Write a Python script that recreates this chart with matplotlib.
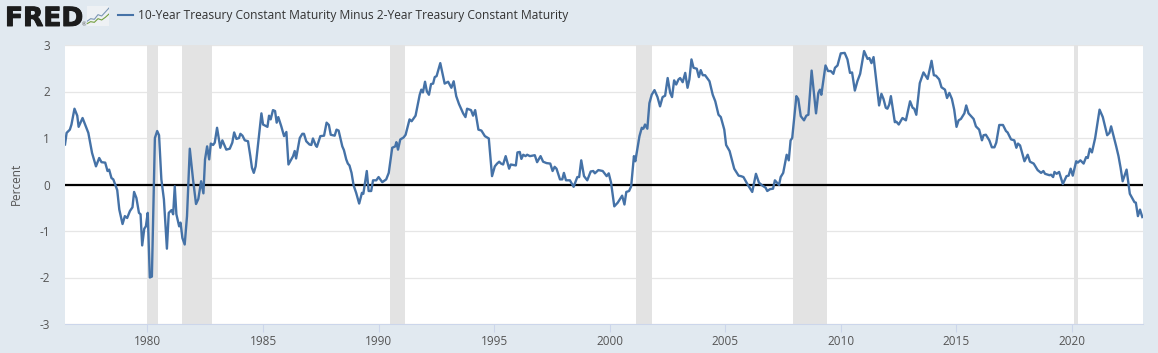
import matplotlib
matplotlib.use("Agg")
import matplotlib.pyplot as plt
import matplotlib.patheffects as pe
from matplotlib.ticker import FixedLocator

plt.rcParams['font.family'] = ['Open Sans', 'DejaVu Sans']

years = [
 1976.43,1976.5,1976.64,1976.71,1976.84,1976.96,1977.02,1977.19,1977.44,1977.6,1977.77,1977.91,1978.01,1978.17,1978.27,1978.34,1978.44,1978.52,1978.69,1978.78,1978.92,
 1979.02,1979.12,1979.24,1979.35,1979.42,1979.52,1979.63,1979.7,1979.77,1979.86,1979.93,1980.01,1980.1,1980.19,1980.32,1980.42,1980.5,1980.6,1980.71,1980.84,1980.92,
 1981.04,1981.11,1981.18,1981.25,1981.37,1981.43,1981.51,1981.61,1981.71,1981.83,1981.97,1982.1,1982.2,1982.32,1982.42,1982.49,1982.58,1982.67,1982.74,1982.84,1982.91,
 1983.01,1983.15,1983.24,1983.41,1983.56,1983.67,1983.75,1983.85,1983.96,1984.02,1984.11,1984.21,1984.35,1984.45,1984.52,1984.6,1984.68,1984.93,1985.0,1985.19,1985.26,
 1985.33,1985.43,1985.52,1985.59,1985.66,1985.79,1985.91,1986.01,1986.1,1986.3,1986.37,1986.43,1986.59,1986.7,1986.77,1986.87,1987.01,1987.09,1987.16,1987.28,1987.33,
 1987.48,1987.64,1987.75,1987.85,1987.93,1988.1,1988.18,1988.27,1988.43,1988.5,1988.6,1988.67,1988.74,1988.83,1988.92,1989.03,1989.16,1989.28,1989.34,1989.49,1989.57,
 1989.68,1989.76,1989.9,1990.0,1990.16,1990.33,1990.44,1990.59,
 1990.72,1990.77,1990.84,1990.94,1991.08,1991.17,1991.34,1991.43,1991.6,1991.78,1991.85,1991.92,1992.01,1992.09,1992.18,1992.27,1992.36,1992.43,1992.51,1992.67,1992.76,
 1992.86,1993.01,1993.15,1993.25,1993.36,1993.48,1993.66,1993.76,1993.83,1994.0,1994.09,1994.18,1994.32,1994.45,1994.6,1994.77,1994.91,1995.03,1995.13,1995.22,1995.3,
 1995.39,1995.5,1995.65,1995.72,1995.94,1996.01,1996.11,1996.18,1996.26,1996.36,1996.43,1996.55,1996.76,1996.86,1997.01,1997.12,1997.27,1997.43,1997.53,1997.62,1997.7,
 1997.85,1997.95,1998.02,1998.11,1998.28,1998.44,1998.6,1998.68,1998.77,1998.89,1999.03,1999.18,1999.29,1999.36,1999.51,1999.7,1999.87,1999.96,2000.06,2000.2,2000.35,
 2000.54,2000.64,2000.72,2000.84,2000.93,2001.05,2001.11,2001.29,2001.39,2001.46,2001.53,2001.63,2001.72,2001.82,2001.94,2002.07,2002.18,2002.29,2002.4,2002.51,2002.62,
 2002.7,2002.79,2002.88,2002.98,2003.05,2003.16,2003.27,2003.37,2003.45,2003.54,2003.63,2003.77,2003.86,2003.94,2004.03,2004.13,2004.32,2004.46,2004.57,2004.71,2004.81,
 2004.96,2005.04,2005.19,2005.39,2005.58,2005.68,2005.79,2005.97,2006.17,2006.33,2006.46,
 2006.6,2006.75,2006.82,2006.94,2007.07,2007.15,2007.33,2007.4,2007.51,2007.66,2007.75,2007.83,2007.9,2008.08,2008.16,2008.27,2008.41,2008.51,2008.6,2008.74,2008.93,
 2009.03,2009.1,2009.16,2009.34,2009.45,2009.57,2009.68,2009.75,2009.86,2010.0,2010.17,2010.29,2010.4,2010.49,2010.61,2010.72,2010.84,2011.01,2011.16,2011.24,2011.33,
 2011.42,2011.66,2011.76,2011.85,2011.95,2012.02,2012.1,2012.17,2012.34,2012.41,2012.51,2012.67,2012.82,2013.0,2013.11,2013.18,2013.27,2013.42,2013.58,2013.76,2013.93,
 2014.03,2014.12,2014.26,2014.36,2014.51,2014.6,2014.7,2014.81,2014.91,2015.01,2015.1,2015.2,2015.35,2015.43,2015.53,2015.75,2015.85,2015.99,2016.11,2016.18,2016.28,
 2016.43,2016.54,2016.65,2016.73,2016.86,2017.02,2017.15,2017.22,2017.37,2017.51,2017.6,2017.67,2017.76,2017.95,2018.09,2018.19,2018.35,2018.52,2018.67,2018.77,2018.84,
 2019.03,2019.1,2019.19,2019.25,2019.34,2019.45,2019.61,2019.77,2019.86,2019.95,2020.04,2020.19,2020.26,2020.37,2020.51,2020.62,2020.69,2020.78,2020.87,2021.01,2021.2,
 2021.34,2021.53,2021.63,2021.7,2021.92,2022.02,2022.11,2022.2,2022.37,2022.51,2022.71,2022.77,2022.86,2022.95,2023.05,
]
spread = [
 .86,1.11,1.18,1.29,1.63,1.48,1.24,1.43,1.11,.68,.39,.57,.48,.47,.29,.32,.14,.11,-.12,-.54,-.85,
 -.68,-.72,-.57,-.49,-.16,-.29,-.61,-.64,-1.31,-.95,-.9,-.61,-2.0,-1.98,1.0,1.15,1.06,.11,-.32,-1.38,-.61,
 -.55,-.64,-.04,-.64,-.9,-.82,-1.15,-1.29,-.68,.77,.11,-.42,-.31,.07,-.19,.54,.82,.54,.88,.85,.9,
 1.22,.79,.95,.75,.77,.9,1.12,.98,1.0,1.09,1.05,.95,.93,.61,.36,.25,.39,1.53,1.29,1.24,1.48,
 1.4,1.6,1.58,1.33,1.45,1.25,1.04,1.13,.43,.61,.72,.56,1.0,1.09,1.09,.93,.86,.85,.99,.84,.81,
 1.04,1.05,1.33,1.28,1.07,1.05,1.18,1.16,.82,.74,.54,.45,.41,.25,-.02,-.18,-.41,-.18,-.2,.29,-.14,
 -.14,.09,.09,.16,.05,.11,.25,.79,
 .82,.91,.75,.97,1.01,1.07,1.4,1.36,1.48,1.93,2.04,1.98,2.21,2.0,1.93,2.16,2.17,2.31,2.33,2.61,2.4,
 2.17,2.21,2.08,2.22,1.9,1.73,1.53,1.45,1.63,1.6,1.48,1.6,1.18,1.16,1.04,.99,.18,.39,.45,.49,.45,
 .43,.61,.34,.43,.41,.69,.7,.55,.64,.61,.64,.61,.63,.48,.61,.49,.46,.45,.29,.38,.34,
 .11,.11,.25,.09,.09,-.05,.16,.16,.52,.18,.09,.28,.29,.24,.31,.29,.18,.24,.04,-.47,-.39,
 -.24,-.43,-.16,-.14,-.04,.61,.5,1.04,1.22,1.2,1.29,1.2,1.75,1.93,2.03,1.88,1.68,1.88,1.91,2.29,1.97,
 1.88,2.24,2.15,2.26,2.29,2.2,2.4,2.08,2.26,2.69,2.51,2.49,2.31,2.46,2.35,2.35,2.22,1.93,1.79,1.5,1.45,
 1.18,.85,.72,.34,.19,.18,.16,0,-.16,.23,.04,
 -.02,-.07,-.14,-.1,-.09,.09,-.01,.16,.25,.64,.52,.95,1.0,1.9,1.84,1.47,1.38,1.48,1.5,2.45,1.53,
 1.97,2.04,1.93,2.56,2.44,2.44,2.38,2.51,2.56,2.82,2.83,2.69,2.4,2.41,2.02,2.22,2.38,2.87,2.7,2.72,2.61,
 2.74,1.7,1.95,1.84,1.65,1.63,1.72,1.9,1.34,1.35,1.29,1.43,1.38,1.79,1.65,1.63,1.5,2.18,2.41,2.27,2.66,
 2.35,2.34,2.26,2.09,2.04,1.86,1.97,1.84,1.61,1.24,1.38,1.41,1.53,1.7,1.53,1.41,1.25,1.18,.95,1.06,1.07,
 .95,.8,.8,.9,1.28,1.28,1.15,1.12,.97,.95,.79,.88,.84,.5,.64,.49,.45,.31,.25,.29,.23,
 .2,.21,.16,.27,.23,.27,.01,.18,.19,.34,.19,.5,.47,.52,.45,.59,.57,.77,.69,1.0,1.61,
 1.45,1.06,1.11,1.25,.82,.61,.36,.07,.32,-.2,-.38,-.39,-.68,-.54,-.7,
]
recession_starts = [1980.0, 1981.5, 1990.5, 2001.16, 2007.95, 2020.09]
recession_ends = [1980.46, 1982.8, 1991.16, 2001.85, 2009.42, 2020.25]
x_ticks = [1980, 1985, 1990, 1995, 2000, 2005, 2010, 2015, 2020]
y_ticks = [-3, -2, -1, 0, 1, 2, 3]
series_name = "10-Year Treasury Constant Maturity Minus 2-Year Treasury Constant Maturity"
icon_x = [0, 1, 2, 3, 4, 5, 6]
icon_blue = [1.4, 2.2, 2.0, 3.4, 3.0, 4.2, 5.4]
icon_green = [0.7, 1.3, 1.1, 2.2, 1.8, 2.6, 3.6]

W, H = 1158, 353
BG = '#e1e9f0'
fig = plt.figure(figsize=(W/100, H/100), dpi=100, facecolor=BG)
ax = fig.add_axes([65/W, 1-324/H, (1143-65)/W, (324-45)/H], facecolor='white')

ax.set_xlim(1976.43, 2023.08)
ax.set_ylim(-3, 3)
ax.yaxis.set_major_locator(FixedLocator(y_ticks))
ax.xaxis.set_major_locator(FixedLocator(x_ticks))
ax.set_xticklabels([str(t) for t in x_ticks])
ax.set_yticklabels([str(t) for t in y_ticks])
ax.grid(axis='y', color='#e6e6e6', lw=0.9, zorder=1)
ax.set_axisbelow(True)
for s, e in zip(recession_starts, recession_ends):
    ax.axvspan(s, e, facecolor='#e3e3e3', edgecolor='none', zorder=1.5)
ax.axhline(0, color='black', lw=1.6, zorder=2.5)
ax.plot(years, spread, color='#4572a7', lw=1.7, zorder=3, solid_joinstyle='round')

for side in ('top', 'left', 'right'):
    ax.spines[side].set_visible(False)
ax.spines['bottom'].set_color('#ccd6eb')
ax.spines['bottom'].set_linewidth(0.75)
ax.tick_params(axis='x', length=5.5, width=0.75, color='#ccd6eb', labelcolor='#555555', labelsize=8.5, pad=2.5)
ax.tick_params(axis='y', length=0, labelcolor='#555555', labelsize=8.5, pad=10.8)
for lab in ax.get_yticklabels():
    lab.set_horizontalalignment('right')
fig.text(16/W, 1-184/H, 'Percent', rotation=90, color='#555555', fontsize=8.5, ha='center', va='center')

logo = fig.text(5/W, 1-26/H, 'FRED', color='#1c1c1c', fontsize=19, fontweight='bold',
                family=['DejaVu Sans'], ha='left', va='baseline')
logo.set_path_effects([pe.withStroke(linewidth=0.7, foreground='#1c1c1c')])
fig.text(82/W, 1-26/H, '®', color='#555555', fontsize=4, ha='left', va='baseline')

icon = fig.add_axes([87/W, 1-26/H, 22/W, 20/H], facecolor='#eef1f4')
icon.plot(icon_x, icon_blue, color='#7c97b5', lw=0.8)
icon.plot(icon_x, icon_green, color='#74a040', lw=0.8)
icon.set_xlim(0, 6); icon.set_ylim(0, 6)
icon.set_xticks([]); icon.set_yticks([])
for sp in icon.spines.values():
    sp.set_visible(False)

fig.add_artist(plt.Line2D([118/W, 133/W], [1-15/H, 1-15/H], color='#4572a7', lw=1.5))
fig.text(138/W, 1-16/H, series_name, color='#333333', fontsize=8.65, ha='left', va='center')

fig.savefig('out.png', dpi=100, facecolor=BG)
